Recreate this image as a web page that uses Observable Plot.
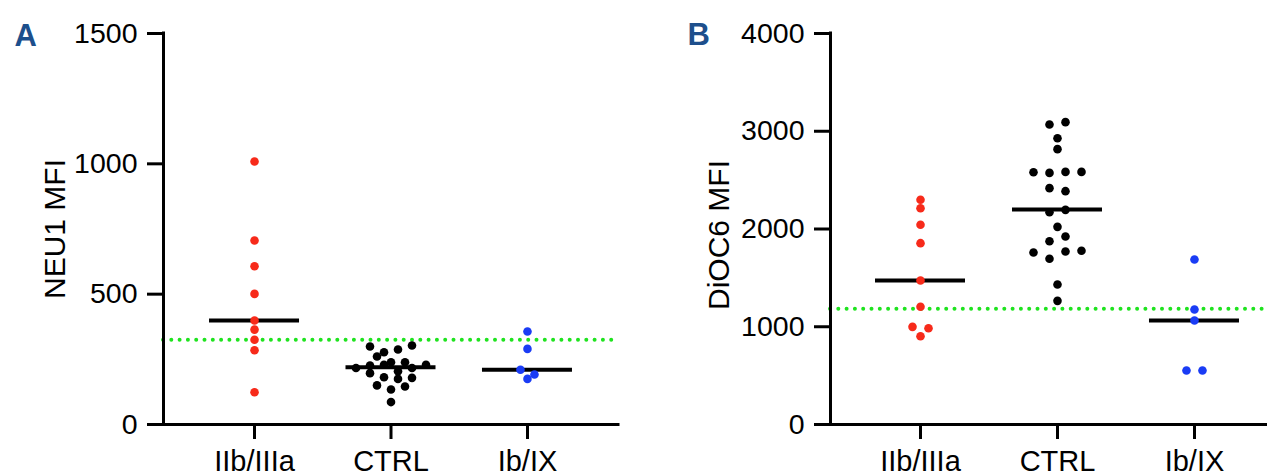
<!DOCTYPE html>
<html><head><meta charset="utf-8">
<script src="https://cdn.jsdelivr.net/npm/d3@7"></script>
<script src="https://cdn.jsdelivr.net/npm/@observablehq/plot@0.6"></script>
<style>
html,body{margin:0;padding:0;background:#fff;}
#wrap{display:flex;width:1267px;height:476px;overflow:hidden;}
</style></head><body><div id="wrap"></div>
<script>
// ---- data ----
const categories = ["IIb/IIIa", "CTRL", "Ib/IX"];
const groupColors = ["#f72a1a", "#000000", "#1a3cf5"];

const neu1_IIbIIIa = [1009, 706, 607, 501, 399, 364, 325, 285, 124];
const neu1_CTRL = [299, 277, 288, 303, 261, 239, 239, 217, 226, 229, 204, 217, 229, 197, 181, 175, 179, 150, 134, 146, 86];
const neu1_IbIX = [357, 290, 210, 192, 175];
const neu1_median = [399, 220, 210];
const neu1_threshold = 325;
const neu1_ticks = [0, 500, 1000, 1500];

const dioc6_IIbIIIa = [2299, 2213, 2043, 1855, 1473, 1204, 999, 985, 903];
const dioc6_CTRL = [3069, 3093, 2929, 2817, 2580, 2574, 2584, 2584, 2418, 2387, 2172, 2196, 2022, 1875, 1923, 1760, 1695, 1770, 1777, 1432, 1265];
const dioc6_IbIX = [1688, 1176, 1064, 552, 552];
const dioc6_median = [1473, 2199, 1064];
const dioc6_threshold = 1185;
const dioc6_ticks = [0, 1000, 2000, 3000, 4000];

// ---- layout helpers ----
const FONT = "'Liberation Sans', Arial, Helvetica, sans-serif";

function swarm(groups, yScale, pxPerUnit, h, spacing) {
  const pts = [];
  groups.forEach((values, gi) => {
    const idx = values.map((v, i) => i).sort((a, b) => values[b] - values[a] || a - b);
    const rows = []; let cur = null, top = null;
    for (const i of idx) {
      const py = yScale.apply(values[i]);
      if (cur && py - top < h) cur.push(i);
      else { cur = [i]; top = py; rows.push(cur); }
    }
    for (const row of rows) {
      row.sort((a, b) => a - b);
      row.forEach((i, k) => pts.push({
        v: values[i],
        x: gi + (k - (row.length - 1) / 2) * spacing / pxPerUnit,
        color: groupColors[gi]
      }));
    }
  });
  return pts;
}

function panel({width, marginLeft, marginRight, xDomain, yDomain, groups, medians, threshold, ticks,
                yLabel, yLabelDx, yLabelDy, letter, letterDx, letterDy, h, spacing}) {
  const height = 476, marginTop = 33, marginBottom = 52;
  const xs = Plot.scale({x: {domain: xDomain, range: [marginLeft, width - marginRight]}});
  const ys = Plot.scale({y: {domain: yDomain, range: [height - marginBottom, marginTop]}});
  const pxPerUnit = xs.apply(1) - xs.apply(0);
  const pts = swarm(groups, ys, pxPerUnit, h, spacing);
  const medData = medians.map((m, i) => ({m, i}));
  return Plot.plot({
    width, height, marginLeft, marginRight, marginTop, marginBottom,
    style: {fontFamily: FONT, background: "white", color: "black"},
    x: {domain: xDomain},
    y: {domain: yDomain},
    color: {type: "identity"},
    marks: [
      Plot.ruleY([threshold], {stroke: "#1fe31f", strokeWidth: 4, strokeDasharray: "0,8.3", strokeLinecap: "round"}),
      Plot.ruleY([yDomain[0]], {stroke: "black", strokeWidth: 3, strokeLinecap: "square"}),
      Plot.ruleX([xDomain[0]], {stroke: "black", strokeWidth: 3, strokeLinecap: "square"}),
      Plot.axisY({ticks, tickFormat: d => String(d), tickSize: 16, tickPadding: 10, fontSize: 28.5,
                  strokeWidth: 3, label: null, fill: "black"}),
      Plot.axisX({ticks: [0, 1, 2], tickFormat: i => categories[i], tickSize: 15, tickPadding: 11,
                  fontSize: 29, strokeWidth: 3, label: null, fill: "black"}),
      Plot.ruleY(medData, {y: "m", x1: d => d.i - 45 / pxPerUnit, x2: d => d.i + 45 / pxPerUnit,
                            stroke: "black", strokeWidth: 4}),
      Plot.dot(pts, {x: "x", y: "v", r: 4.3, fill: "color", stroke: null}),
      Plot.text([yLabel], {frameAnchor: "left", dx: yLabelDx, dy: yLabelDy, rotate: -90, textAnchor: "middle",
                           lineAnchor: "bottom", fontSize: 30, fill: "black"}),
      Plot.text([letter], {frameAnchor: "top-left", dx: letterDx, dy: letterDy, textAnchor: "start",
                           lineAnchor: "bottom", fontSize: 31, fontWeight: "bold", fill: "#1d4f8c"})
    ]
  });
}

const wrap = document.getElementById("wrap");
wrap.appendChild(panel({
  width: 633, marginLeft: 163, marginRight: 15, xDomain: [-0.667, 2.667], yDomain: [0, 1500],
  groups: [neu1_IIbIIIa, neu1_CTRL, neu1_IbIX], medians: neu1_median, threshold: neu1_threshold,
  ticks: neu1_ticks, yLabel: "NEU1 MFI", yLabelDx: -99, yLabelDy: 0,
  letter: "A", letterDx: -149, letterDy: 12, h: 7, spacing: 14
}));
wrap.appendChild(panel({
  width: 634, marginLeft: 197, marginRight: 0, xDomain: [-0.657, 2.533], yDomain: [0, 4000],
  groups: [dioc6_IIbIIIa, dioc6_CTRL, dioc6_IbIX], medians: dioc6_median, threshold: dioc6_threshold,
  ticks: dioc6_ticks, yLabel: "DiOC6 MFI", yLabelDx: -102, yLabelDy: 6,
  letter: "B", letterDx: -143, letterDy: 11, h: 8.2, spacing: 16
}));
</script></body></html>
